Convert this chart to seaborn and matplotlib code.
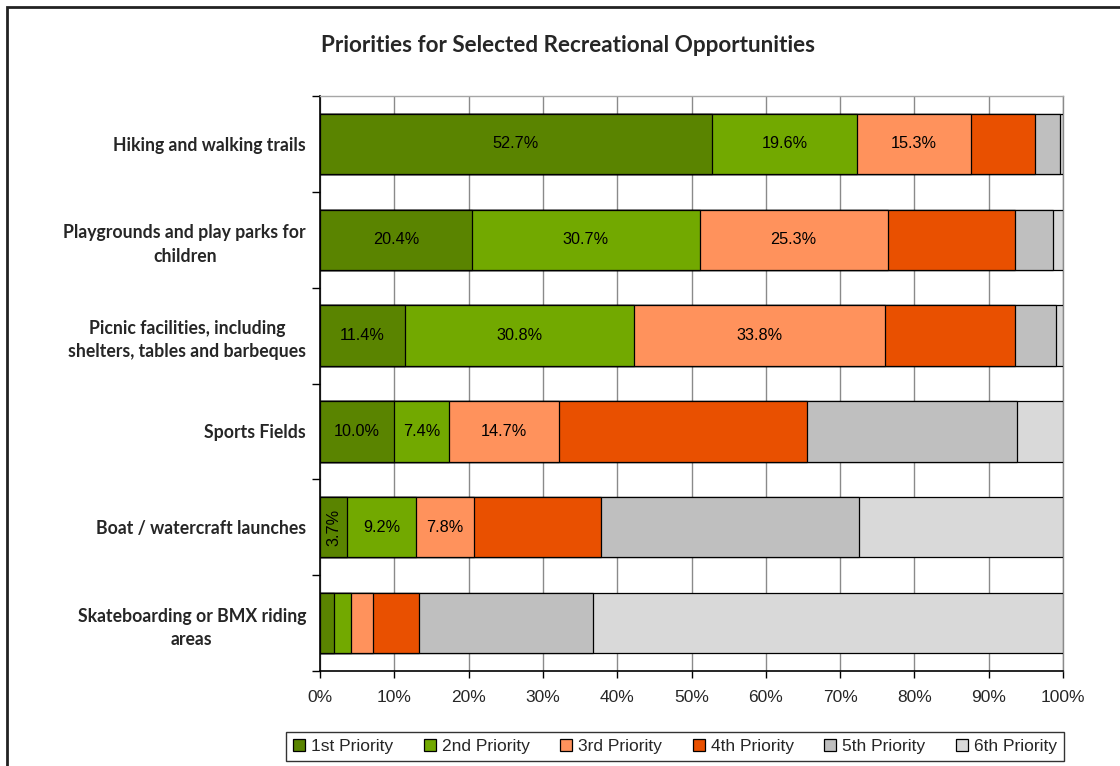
import matplotlib
matplotlib.use("Agg")
import matplotlib.pyplot as plt
from matplotlib.patches import Patch, Rectangle
import numpy as np
import pandas as pd
import seaborn as sns

# Survey results: share of respondents ranking each opportunity at each priority level (%)
categories = [
    "Hiking and walking trails",
    "Playgrounds and play parks for\nchildren",
    "Picnic facilities, including\nshelters, tables and barbeques",
    "Sports Fields",
    "Boat / watercraft launches",
    "Skateboarding or BMX riding\nareas",
]
series_names = ["1st Priority", "2nd Priority", "3rd Priority",
                "4th Priority", "5th Priority", "6th Priority"]
priority_1 = [52.7, 20.4, 11.4, 10.0, 3.7, 1.9]
priority_2 = [19.6, 30.7, 30.8, 7.4, 9.2, 2.3]
priority_3 = [15.3, 25.3, 33.8, 14.7, 7.8, 3.0]
priority_4 = [8.6, 17.1, 17.6, 33.5, 17.1, 6.1]
priority_5 = [3.4, 5.2, 5.4, 28.2, 34.8, 23.5]
priority_6 = [0.4, 1.3, 1.0, 6.2, 27.4, 63.2]
colors = ["#5a8400", "#72a900", "#ff925c", "#e95000", "#bfbfbf", "#d9d9d9"]
labelled_series = 3  # value labels are printed on the first three priorities

series = [priority_1, priority_2, priority_3, priority_4, priority_5, priority_6]

df = pd.DataFrame(np.array(series).T, columns=series_names)
df.insert(0, "Opportunity", categories)
cum = df[series_names].cumsum(axis=1)

sns.set_theme(style="white")
plt.rcParams["font.family"] = ["Liberation Sans", "DejaVu Sans"]

fig = plt.figure(figsize=(11.2, 7.66), dpi=100)
ax = fig.add_axes([320 / 1120, 1 - 671 / 766, (1063 - 320) / 1120, (671 - 96) / 766])

# Stacked bars: draw cumulative totals from the last priority back to the first
for i in range(len(series_names) - 1, -1, -1):
    sns.barplot(x=cum[series_names[i]], y=df["Opportunity"], orient="h",
                color=colors[i], saturation=1, width=0.63,
                edgecolor="black", linewidth=0.9, ax=ax, zorder=3)

# Value labels
for i in range(labelled_series):
    lefts = cum[series_names[i]] - df[series_names[i]]
    for j, v in enumerate(df[series_names[i]]):
        if v < 3.5:
            continue
        xc = lefts.iloc[j] + v / 2
        rot = 90 if v < 5 else 0
        ax.text(xc, j, f"{v:.1f}%", ha="center", va="center", rotation=rot,
                fontsize=11.7, color="black", zorder=5)

ax.set_xlim(0, 100)
ax.set_ylim(len(categories) - 0.5, -0.5)
ax.set_xticks(np.arange(0, 101, 10))
ax.set_xticklabels([f"{t}%" for t in range(0, 101, 10)], fontsize=12.5)
ax.set_xlabel("")
ax.set_ylabel("")
ax.grid(axis="x", color="#8a8a8a", linewidth=1, zorder=0)
ax.grid(axis="y", visible=False)
ax.set_axisbelow(True)

ax.tick_params(axis="x", direction="out", length=5, width=1, color="black", pad=9,
               bottom=True)
ax.tick_params(axis="y", which="major", length=0, pad=10)
ax.set_yticks(np.arange(-0.5, len(categories), 1), minor=True)
ax.tick_params(axis="y", which="minor", direction="out", length=6, width=1,
               color="black", left=True)
for lbl in ax.get_yticklabels():
    lbl.set_family(["Lato", "DejaVu Sans"])
    lbl.set_fontweight("bold")
    lbl.set_fontsize(12.7)
    lbl.set_multialignment("center")
    lbl.set_linespacing(1.45)

for side in ["left", "bottom"]:
    ax.spines[side].set_color("black")
    ax.spines[side].set_linewidth(1.2)
ax.spines["top"].set_color("#a6a6a6")
ax.spines["top"].set_linewidth(1)
ax.spines["right"].set_color("#8a8a8a")
ax.spines["right"].set_linewidth(1)

fig.text(568 / 1120, 1 - 45 / 766, "Priorities for Selected Recreational Opportunities",
         ha="center", va="center", fontsize=16.2, fontweight="bold",
         family=["Lato", "DejaVu Sans"])

handles = [Patch(facecolor=c, edgecolor="black", linewidth=0.9) for c in colors]
leg = fig.legend(handles, series_names, loc="center", ncol=6,
                 bbox_to_anchor=(675 / 1120, 1 - 746.5 / 766), fontsize=12.5,
                 frameon=True, fancybox=False, edgecolor="black",
                 handlelength=0.7, handleheight=0.7, handletextpad=0.35,
                 columnspacing=1.75, borderpad=0.4, borderaxespad=0)
leg.get_frame().set_linewidth(1)

# Chart frame
fig.patches.append(Rectangle((7 / 1120, -0.1), 1.2, 1.1 - 7.5 / 766,
                             transform=fig.transFigure, fill=False,
                             edgecolor="#222222", linewidth=2))

fig.savefig("out.png", dpi=100)
